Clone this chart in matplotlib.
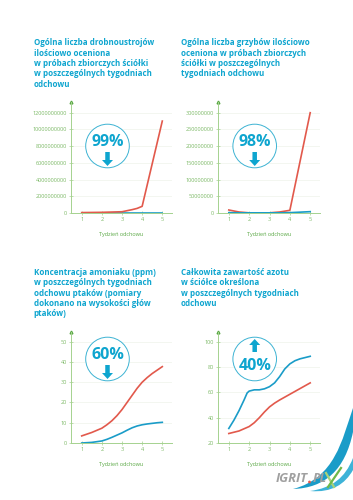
import matplotlib
matplotlib.use("Agg")
import matplotlib.pyplot as plt
from matplotlib.patches import Circle, PathPatch, FancyArrow
from matplotlib.path import Path

BLUE = "#0ea5cf"
RED = "#e2594c"
LINEBLUE = "#1a9cc8"
AXIS = "#a5d28f"
TICK = "#7cb966"
GRID = "#f1f5ee"

plt.rcParams["font.family"] = ["Open Sans", "DejaVu Sans"]

weeks = [1, 2, 3, 4, 5]

titles = [
    "Ogólna liczba drobnoustrojów\nilościowo oceniona\nw próbach zbiorczych ściółki\nw poszczególnych tygodniach\nodchowu",
    "Ogólna liczba grzybów ilościowo\noceniona w próbach zbiorczych\nściółki w poszczególnych\ntygodniach odchowu",
    "Koncentracja amoniaku (ppm)\nw poszczególnych tygodniach\nodchowu ptaków (pomiary\ndokonano na wysokości głów\nptaków)",
    "Całkowita zawartość azotu\nw ściółce określona\nw poszczególnych tygodniach\nodchowu",
]
xlabel = "Tydzień odchowu"

# panel 1
micro_x = [1, 2, 3, 3.5, 3.75, 4, 5]
micro_red = [5e7, 8e7, 1.5e8, 4e8, 5.5e8, 8e8, 1.1e10]
micro_blue = [0, 0, 0, 0, 0, 0, 0]
micro_ticks = [0, 2000000000, 4000000000, 6000000000, 8000000000, 10000000000, 12000000000]

# panel 2
fungi_x = [1, 1.5, 2, 3, 3.5, 4, 5]
fungi_red = [9e6, 3e6, 5e5, 5e5, 3e6, 8e6, 3e8]
fungi_blue = [1e6, 5e5, 5e5, 5e5, 5e5, 1e6, 4e6]
fungi_ticks = [0, 50000000, 100000000, 150000000, 200000000, 250000000, 300000000]

# panel 3
nh3_x = [1, 1.5, 2, 2.25, 2.5, 2.75, 3, 3.25, 3.5, 3.75, 4, 4.25, 4.5, 4.75, 5]
nh3_red = [3.5, 5.2, 7.3, 9, 11, 13.5, 16.5, 20, 23.5, 27, 30, 32.3, 34.3, 36, 37.7]
nh3_blue = [0, 0.3, 1, 1.8, 2.8, 3.9, 5, 6.3, 7.5, 8.4, 9, 9.4, 9.7, 10, 10.2]
nh3_ticks = [0, 10, 20, 30, 40, 50]

# panel 4
n_red_x = [1, 1.5, 2, 2.25, 2.5, 2.75, 3, 3.25, 3.5, 4, 4.5, 5]
n_red = [27.5, 29.5, 33, 36, 40, 44.5, 48.5, 51.5, 54, 58.5, 63, 67.5]
n_blue_x = [1, 1.25, 1.5, 1.75, 1.9, 2, 2.25, 2.5, 2.75, 3, 3.25, 3.5, 3.75, 4, 4.25, 4.5, 5]
n_blue = [31.5, 38, 45.5, 54, 59.5, 61, 62, 62, 62.8, 64.5, 67.5, 72.5, 78.5, 82.5, 85, 86.5, 88.5]
n_ticks = [20, 40, 60, 80, 100]

percents = ["99%", "98%", "60%", "40%"]

W, H = 353, 500
fig = plt.figure(figsize=(W / 100, H / 100), dpi=100, facecolor="white")


def make_axes(x0, x1, ytop, ybot, ylim):
    ax = fig.add_axes([x0 / W, 1 - ybot / H, (x1 - x0) / W, (ybot - ytop) / H])
    ax.set_facecolor("none")
    ax.set_xlim(1 - 10.7 / 20.15, 5 + 9.7 / 20.15)
    ax.set_ylim(*ylim)
    for s in ("top", "right"):
        ax.spines[s].set_visible(False)
    for s in ("left", "bottom"):
        ax.spines[s].set_color(AXIS)
        ax.spines[s].set_linewidth(0.7)
    ax.set_xticks(weeks)
    ax.tick_params(axis="both", direction="inout", colors=AXIS, labelcolor=TICK,
                   labelsize=3.95, length=3, width=0.5, pad=1.5)
    ax.yaxis.grid(True, color=GRID, lw=0.6)
    ax.set_axisbelow(True)
    ax.set_xlabel(xlabel, fontsize=3.95, color="#5aa845", labelpad=7)
    ax.plot(0, 1, marker="^", ms=2, color="#5aa845", transform=ax.transAxes, clip_on=False)
    return ax


a1 = make_axes(71, 172, 102, 213, (0, 1.328e10))
a1.set_yticks(micro_ticks)
a1.set_yticklabels([str(v) for v in micro_ticks])
a1.plot(micro_x, micro_blue, color=LINEBLUE, lw=1.2, clip_on=False)
a1.plot(micro_x, micro_red, color=RED, lw=1.2, clip_on=False)

a2 = make_axes(218, 320, 102, 213, (0, 3.32e8))
a2.set_yticks(fungi_ticks)
a2.set_yticklabels([str(v) for v in fungi_ticks])
a2.plot(fungi_x, fungi_red, color=RED, lw=1.2, clip_on=False)
a2.plot(fungi_x, fungi_blue, color=LINEBLUE, lw=1.2, clip_on=False)

a3 = make_axes(71, 172, 332, 443, (0, 54.8))
a3.set_yticks(nh3_ticks)
a3.plot(nh3_x, nh3_red, color=RED, lw=1.2, clip_on=False)
a3.plot(nh3_x, nh3_blue, color=LINEBLUE, lw=1.2, clip_on=False)

a4 = make_axes(218, 320, 332, 443, (20, 107.7))
a4.set_yticks(n_ticks)
a4.plot(n_red_x, n_red, color=RED, lw=1.2, clip_on=False)
a4.plot(n_blue_x, n_blue, color=LINEBLUE, lw=1.2, clip_on=False)

# overlay in pixel coordinates
ov = fig.add_axes([0, 0, 1, 1], zorder=5)
ov.set_xlim(0, W)
ov.set_ylim(H, 0)
ov.axis("off")

title_pos = [(33.5, 38.2), (180.7, 38.2), (33.5, 268), (180.7, 268)]
for (tx, ty), t in zip(title_pos, titles):
    ov.text(tx, ty, t, fontsize=5.75, fontweight="bold", color=BLUE, va="top", ha="left", linespacing=1.19)

centers = [(107.5, 146), (254.7, 146), (107.5, 359), (254.7, 359)]
for i, ((cx, cy), p) in enumerate(zip(centers, percents)):
    ov.add_patch(Circle((cx, cy), 21.8, fc="white", ec="#3db3d3", lw=0.7))
    up = i == 3
    ty = cy + 6.5 if up else cy - 4
    ov.text(cx, ty, p, fontsize=11.5, fontweight="bold", color=BLUE, ha="center", va="center")
    if up:
        ov.add_patch(FancyArrow(cx, cy - 7, 0, -13, width=4.5, head_width=11, head_length=6,
                                length_includes_head=True, color=BLUE, lw=0))
    else:
        ov.add_patch(FancyArrow(cx, cy + 6, 0, 14, width=4.5, head_width=11, head_length=6,
                                length_includes_head=True, color=BLUE, lw=0))

# corner swoosh
codes = [Path.MOVETO, Path.CURVE4, Path.CURVE4, Path.CURVE4, Path.CURVE4, Path.CURVE4, Path.CURVE4, Path.CLOSEPOLY]
verts = [(353, 408), (342, 440), (335, 478), (293, 489), (325, 488), (345, 470), (353, 432), (353, 408)]
ov.add_patch(PathPatch(Path(verts, codes), fc=LINEBLUE, lw=0))
verts2 = [(353, 458), (345, 478), (332, 488), (310, 491), (332, 493), (345, 484), (353, 470), (353, 458)]
ov.add_patch(PathPatch(Path(verts2, codes), fc="#3db3d8", lw=0))
ov.plot([326, 334], [473, 487], color="#a8d27a", lw=1.6)
ov.plot([328, 341], [487, 468], color="#6fb84a", lw=1.6)
ov.text(276, 479, "IGRIT", fontsize=9.4, fontweight="bold", style="italic", color="#a0a0a0", ha="left", va="center")
ov.add_patch(Circle((309.5, 482), 1.4, fc=RED, lw=0))
ov.text(313, 479, "PL", fontsize=9.4, fontweight="bold", style="italic", color="#a0a0a0", ha="left", va="center")

fig.savefig("out.png", dpi=100)
